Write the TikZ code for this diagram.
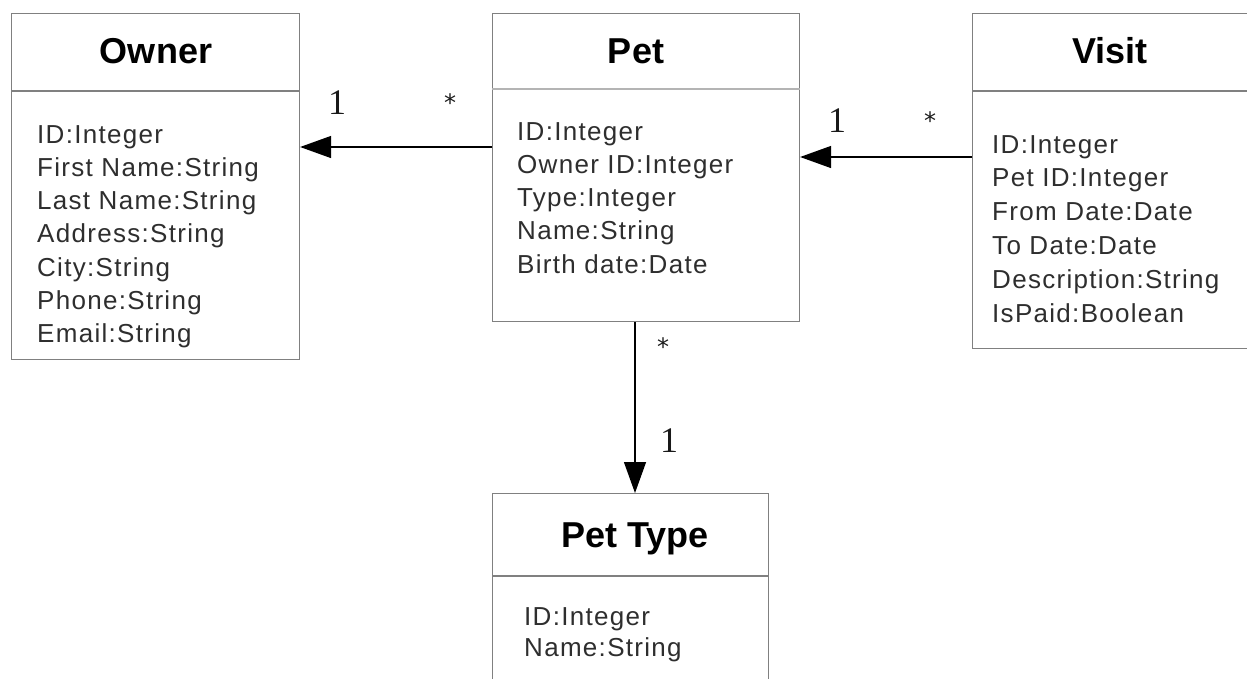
\documentclass[tikz,border=0pt]{standalone}
\usepackage{fontspec}
\setmainfont{Liberation Sans}
\newfontfamily\multfont{Liberation Serif}
\newfontfamily\starfont{DejaVu Sans}
\newfontfamily\attrfont[LetterSpace=5]{Liberation Sans}
\usetikzlibrary{arrows.meta}

\definecolor{boxgray}{HTML}{808080}
\definecolor{rulegray}{HTML}{B4B4B4}
\definecolor{attrtext}{HTML}{2E2E2E}

\begin{document}
\begin{tikzpicture}[x=1pt,y=-1pt,
  classbox/.style={draw=boxgray, line width=1.1pt, rectangle, anchor=north west, inner sep=0pt},
  divider/.style={draw=boxgray, line width=1.1pt},
  title/.style={font=\fontsize{36}{40}\selectfont\bfseries, text=black, anchor=base, inner sep=0pt},
  attr/.style={font=\attrfont\fontsize{26}{32}\selectfont, text=attrtext, anchor=base west, inner sep=0pt},
  mult/.style={font=\multfont\fontsize{36}{40}\selectfont, text=black!90, anchor=center, inner sep=0pt},
  star/.style={font=\starfont\fontsize{24}{28}\selectfont, text=black!90, anchor=center, inner sep=0pt},
  assoc/.style={draw=black, line width=1.3pt, -{Triangle[length=31pt,width=22pt]}}
]
\useasboundingbox (0,0) rectangle (1247,678);

% class boxes
\node[classbox, minimum width=288pt, minimum height=346pt] (owner) at (11,13) {};
\node[classbox, minimum width=307pt, minimum height=308pt] (pet) at (492,13) {};
\node[classbox, minimum width=300pt, minimum height=335pt] (visit) at (972,13) {};
\node[classbox, minimum width=276pt, minimum height=220pt] (pettype) at (492,493) {};

% compartment dividers
\draw[divider] (owner.west |- 0,91) -- (owner.east |- 0,91);
\draw[draw=rulegray, line width=2pt] (pet.west |- 0,89) -- (pet.east |- 0,89);
\draw[divider] (visit.west |- 0,91) -- (visit.east |- 0,91);
\draw[divider] (pettype.west |- 0,576) -- (pettype.east |- 0,576);

% class names
\node[title] (owner-title) at (156,63) {Owner};
\node[title] (pet-title) at (636,63) {Pet};
\node[title] (visit-title) at (1110,63) {Visit};
\node[title] (pettype-title) at (635,547) {Pet Type};

% attributes
\foreach \t [count=\i] in {ID:Integer, First Name:String, Last Name:String, Address:String, City:String, Phone:String, Email:String}
  \node[attr] (owner-a\i) at (37,{143+33.3*(\i-1)}) {\t};
\foreach \t [count=\i] in {ID:Integer, Owner ID:Integer, Type:Integer, Name:String, Birth date:Date}
  \node[attr] (pet-a\i) at (517,{140+33.3*(\i-1)}) {\t};
\foreach \t [count=\i] in {ID:Integer, Pet ID:Integer, From Date:Date, To Date:Date, Description:String, IsPaid:Boolean}
  \node[attr] (visit-a\i) at (992,{153+33.8*(\i-1)}) {\t};
\foreach \t [count=\i] in {ID:Integer, Name:String}
  \node[attr] (pettype-a\i) at (524,{625+31*(\i-1)}) {\t};

% associations
\draw[assoc] (pet.west |- 0,147) -- (owner.east |- 0,147);
\draw[assoc] (visit.west |- 0,157) -- (pet.east |- 0,157);
\draw[assoc] (pet.south -| 635,0) -- (pettype.north -| 635,0);

% multiplicities
\node[mult] (m-owner-1) at (337,103) {1};
\node[star] (m-owner-s) at (450,103) {*};
\node[mult] (m-pet-1) at (837,121) {1};
\node[star] (m-visit-s) at (930,121) {*};
\node[star] (m-pet-s) at (663,347) {*};
\node[mult] (m-type-1) at (669,441) {1};
\end{tikzpicture}
\end{document}
